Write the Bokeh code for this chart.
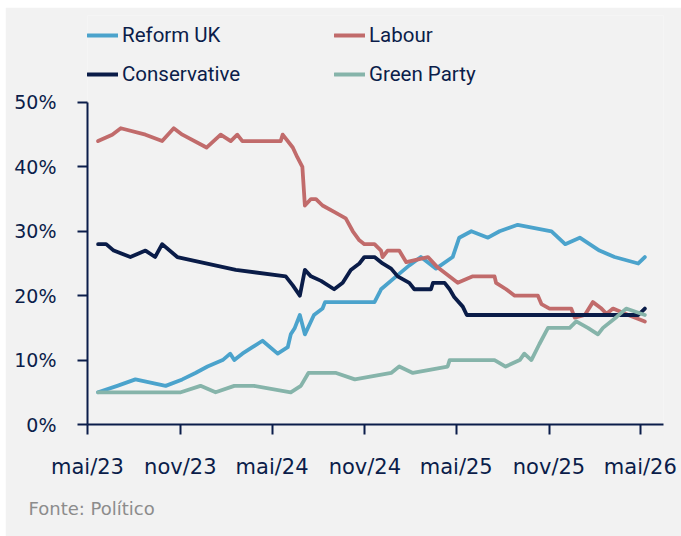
import pandas as pd
from bokeh.plotting import figure
from bokeh.models import (FixedTicker, PrintfTickFormatter, Legend, LegendItem,
                          Title, Range1d)
from bokeh.embed import file_html
from bokeh.resources import INLINE

ORIGIN = "2023-05-01"

tick_dates = ["2023-05-01", "2023-11-01", "2024-05-01", "2024-11-01",
              "2025-05-01", "2025-11-01", "2026-05-01"]
tick_labels = ["mai/23", "nov/23", "mai/24", "nov/24", "mai/25", "nov/25", "mai/26"]
y_ticks = [0, 10, 20, 30, 40, 50]

reform_dates = ["2023-05-22", "2023-06-29", "2023-08-04", "2023-10-03", "2023-11-05",
                "2023-12-01", "2023-12-25", "2024-01-24", "2024-02-08", "2024-02-16",
                "2024-03-03", "2024-03-23", "2024-04-12", "2024-05-12", "2024-06-01",
                "2024-06-07", "2024-06-15", "2024-06-25", "2024-07-05", "2024-07-23",
                "2024-08-09", "2024-08-14", "2024-11-20", "2024-11-30", "2024-12-03",
                "2025-01-02", "2025-01-28", "2025-02-20", "2025-03-22", "2025-04-24",
                "2025-05-07", "2025-05-31", "2025-07-03", "2025-07-26", "2025-08-31",
                "2025-11-06", "2025-12-03", "2026-01-01", "2026-02-09", "2026-03-11",
                "2026-04-27", "2026-05-10"]
reform_values = [5, 6, 7, 6, 7, 8, 9, 10, 11, 10,
                 11, 12, 13, 11, 12, 14, 15, 17, 14, 17,
                 18, 19, 19, 20.5, 21, 23, 24.7, 26, 24.2, 26,
                 29, 30, 29, 30, 31, 30, 28, 29, 27, 26,
                 25, 26]

labour_dates = ["2023-05-22", "2023-06-19", "2023-07-06", "2023-08-24", "2023-09-26",
                "2023-10-19", "2023-11-05", "2023-12-23", "2024-01-20", "2024-02-09",
                "2024-02-22", "2024-03-03", "2024-05-18", "2024-05-22", "2024-06-11",
                "2024-06-20", "2024-06-30", "2024-07-05", "2024-07-17", "2024-07-27",
                "2024-08-09", "2024-09-01", "2024-09-24", "2024-10-08", "2024-10-21",
                "2024-10-31", "2024-11-20", "2024-12-03", "2024-12-06", "2024-12-16",
                "2025-01-08", "2025-01-22", "2025-03-06", "2025-03-25", "2025-05-04",
                "2025-06-03", "2025-07-16", "2025-07-19", "2025-08-08", "2025-08-25",
                "2025-10-10", "2025-10-17", "2025-11-02", "2025-12-15", "2025-12-22",
                "2026-01-11", "2026-01-27", "2026-02-13", "2026-02-23", "2026-03-08",
                "2026-04-07", "2026-05-10"]
labour_values = [44, 45, 46, 45, 44, 46, 45, 43, 45, 44,
                 45, 44, 44, 45, 43, 41.5, 40, 34, 35, 35,
                 34, 33, 32, 30, 28.6, 28, 28, 27, 26, 27,
                 27, 25.2, 26, 24.4, 22, 23, 23, 22, 21, 20,
                 20, 18.7, 18, 18, 16.6, 17, 19, 18, 17.2, 18,
                 17, 16]

conservative_dates = ["2023-05-22", "2023-06-07", "2023-06-22", "2023-07-25", "2023-08-24",
                      "2023-09-12", "2023-09-26", "2023-10-26", "2024-02-19", "2024-05-28",
                      "2024-06-11", "2024-06-25", "2024-07-05", "2024-07-17", "2024-08-06",
                      "2024-09-01", "2024-09-18", "2024-10-04", "2024-10-21", "2024-10-31",
                      "2024-11-20", "2024-12-06", "2024-12-23", "2025-01-05", "2025-01-28",
                      "2025-02-07", "2025-03-12", "2025-03-16", "2025-04-08", "2025-04-18",
                      "2025-04-27", "2025-05-14", "2025-05-22", "2026-04-27", "2026-05-10"]
conservative_values = [28, 28, 27, 26, 27, 26, 28, 26, 24, 23,
                       21.6, 20, 24, 23, 22.3, 21, 22, 24, 25, 26,
                       26, 25, 24.2, 23, 22, 21, 21, 22, 22, 21,
                       19.8, 18.3, 17, 17, 18]

green_dates = ["2023-05-22", "2023-11-02", "2023-12-11", "2024-01-10", "2024-02-16",
               "2024-03-26", "2024-06-07", "2024-06-27", "2024-07-12", "2024-09-05",
               "2024-10-12", "2024-12-23", "2025-01-08", "2025-02-04", "2025-04-14",
               "2025-04-18", "2025-07-16", "2025-08-07", "2025-09-04", "2025-09-13",
               "2025-09-27", "2025-10-13", "2025-10-30", "2025-12-12", "2025-12-25",
               "2026-01-17", "2026-02-06", "2026-02-16", "2026-03-15", "2026-04-03",
               "2026-05-10"]
green_values = [5, 5, 6, 5, 6, 6, 5, 6, 8, 8,
                7, 8, 9, 8, 9, 10, 10, 9, 10, 11,
                10, 12.5, 15, 15, 16, 15, 14, 15, 16.7, 18,
                17]

NAVY = "#0b1d4a"
BG = "#f2f2f2"


def days(dates):
    o = pd.Timestamp(ORIGIN)
    return [(pd.Timestamp(d) - o).days for d in dates]


p = figure(width=676, height=529, output_backend="svg", toolbar_location=None,
           x_range=Range1d(0, 1142), y_range=Range1d(0, 63.5))
p.margin = (7, 0, 0, 5)
p.min_border_left = 82
p.min_border_right = 18
p.min_border_top = 8
p.min_border_bottom = 112
p.background_fill_color = BG
p.border_fill_color = BG
p.outline_line_color = None
p.grid.visible = False

series = [
    ("Reform UK", reform_dates, reform_values, "#4ba3cc"),
    ("Labour", labour_dates, labour_values, "#c16b6b"),
    ("Conservative", conservative_dates, conservative_values, "#0a1c48"),
    ("Green Party", green_dates, green_values, "#86b4aa"),
]
items = []
for name, d, v, c in series:
    r = p.line(days(d), v, line_color=c, line_width=3.8,
               line_join="round", line_cap="round")
    items.append(LegendItem(label=name, renderers=[r]))

legend = Legend(items=items, location=(0, 338), orientation="horizontal", ncols=2,
                padding=0, margin=0, spacing=15, glyph_width=31, glyph_height=20,
                label_standoff=4, label_width=197,
                label_text_font="Roboto", label_text_font_size="20.5px",
                label_text_color=NAVY, border_line_color=None,
                background_fill_alpha=0)
p.add_layout(legend)

tick_pos = days(tick_dates)
p.xaxis.ticker = FixedTicker(ticks=tick_pos)
p.xaxis.major_label_overrides = {t: l for t, l in zip(tick_pos, tick_labels)}
p.yaxis.ticker = FixedTicker(ticks=y_ticks)
p.yaxis.formatter = PrintfTickFormatter(format="%d%%")
p.yaxis.bounds = (0, 50)

for ax in (p.xaxis[0], p.yaxis[0]):
    ax.axis_line_color = NAVY
    ax.axis_line_width = 2
    ax.major_tick_line_color = NAVY
    ax.major_tick_line_width = 2
    ax.major_tick_in = 0
    ax.major_tick_out = 10
    ax.minor_tick_line_color = None
    ax.major_label_text_color = NAVY
    ax.major_label_text_font = "DejaVu Sans"

p.xaxis.major_label_text_font_size = "21px"
p.xaxis.major_label_standoff = 20
p.yaxis.major_label_text_font_size = "19px"
p.yaxis.major_label_standoff = 21

src = Title(text="Fonte: Político", align="left", offset=-59, standoff=28,
            text_font="DejaVu Sans", text_font_size="18px", text_color="#8c8c8c",
            text_font_style="normal")
p.add_layout(src, "below")

open("out.html", "w").write(file_html(p, INLINE))
